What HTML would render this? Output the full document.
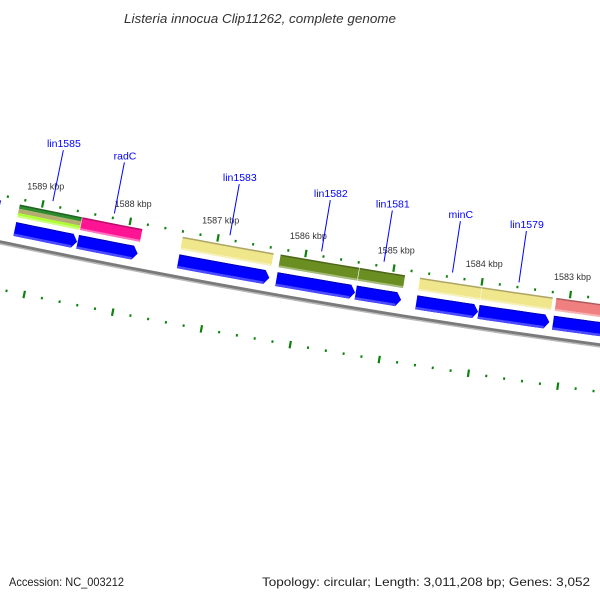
<!DOCTYPE html>
<html><head><meta charset="utf-8"><title>Listeria innocua genome map</title>
<style>html,body{margin:0;padding:0;background:#fff;}svg{display:block;font-family:"Liberation Sans",sans-serif;}</style>
</head><body>
<svg id="map" width="600" height="600" viewBox="0 0 600 600" xmlns="http://www.w3.org/2000/svg">
<rect width="600" height="600" fill="#fff"/>
<text x="260" y="23" text-anchor="middle" font-size="13" font-style="italic" fill="#333" textLength="272" lengthAdjust="spacingAndGlyphs">Listeria innocua Clip11262, complete genome</text>
<text x="9" y="586" font-size="12" fill="#222" textLength="115" lengthAdjust="spacingAndGlyphs">Accession: NC_003212</text>
<text x="590" y="586" text-anchor="end" font-size="12" fill="#222" textLength="328" lengthAdjust="spacingAndGlyphs">Topology: circular; Length: 3,011,208 bp; Genes: 3,052</text>
<g id="plot"></g>
</svg>
<script>
// ---- data ----
const geneNames  = ["", "lin1585", "radC", "lin1583", "lin1582", "lin1581", "minC", "lin1579", ""];
const geneStarts = [1590300, 1589250, 1588534, 1587391, 1586276, 1585378, 1584693, 1583990, 1583150];
const geneEnds   = [1589466, 1588540, 1587851, 1586356, 1585385, 1584864, 1583995, 1583191, 1582200];
const cogColors  = [["#0000ff"], ["#2e8b2e","#b5ad70","#adff2f"], ["#ff1493"], ["#f0e68c"], ["#6b8e23"], ["#6b8e23"], ["#f0e68c"], ["#f0e68c"], ["#f08080"]];
const tickRange  = [1581000, 1591400];
const tickStep   = 200;
const majorStep  = 1000;

// ---- geometry (circular axis) ----
const NS = "http://www.w3.org/2000/svg";
const CX = 1704, CY = -7883, R = 8300;
const PHI0 = 99.75 * Math.PI / 180, REF = 1586000, K = 0.01081 / 1000;
function ang(bp){ return PHI0 + (bp - REF) * K; }
function pt(bp, v){ const a = ang(bp), r = R + v; return [CX + r*Math.cos(a), CY + r*Math.sin(a)]; }
function arcPts(b1, b2, v, n){ const out=[]; for(let i=0;i<=n;i++){ out.push(pt(b1+(b2-b1)*i/n, v)); } return out; }
function ptsStr(p){ return p.map(q=>q[0].toFixed(2)+","+q[1].toFixed(2)).join(" "); }
const plot = document.getElementById("plot");
function mk(tag, attrs){ const el=document.createElementNS(NS, tag); for(const k in attrs) el.setAttribute(k, attrs[k]); plot.appendChild(el); return el; }
function band(b1, b2, v1, v2, fill){ const p = arcPts(b1,b2,v1,6).concat(arcPts(b2,b1,v2,6)); return mk("polygon",{points:ptsStr(p), fill:fill}); }

// backbone
{
  const p1 = mk("polyline",{points:ptsStr(arcPts(tickRange[1],tickRange[0],1.5,30)), fill:"none", stroke:"#7a7a7a", "stroke-width":3});
  
  
  const p2 = mk("polyline",{points:ptsStr(arcPts(tickRange[1],tickRange[0],3.6,30)), fill:"none", stroke:"#b8b8b8", "stroke-width":1.4});
  
  
}

// ticks
for (let bp = tickRange[0]; bp <= tickRange[1]; bp += tickStep) {
  const major = bp % majorStep === 0;
  const a1 = pt(bp, major ? -48 : -45.5), a2 = pt(bp, major ? -40.5 : -43);
  const t = mk("line",{x1:a1[0],y1:a1[1],x2:a2[0],y2:a2[1],stroke:"#0d820d","stroke-width":major?2.2:2});
  
  
  const b1 = pt(bp, major ? 44.5 : 47), b2 = pt(bp, major ? 52 : 49.5);
  const t2 = mk("line",{x1:b1[0],y1:b1[1],x2:b2[0],y2:b2[1],stroke:"#0d820d","stroke-width":major?2.2:2});
  
  
  if (major) {
    const lp = pt(bp, -59);
    const lab = mk("text",{x:lp[0].toFixed(1), y:lp[1].toFixed(1), "text-anchor":"middle", "font-size":9, fill:"#333"});
    lab.textContent = (bp/1000) + " kbp";
    
    
  }
}

// features
const HEAD = 55;
for (let i = 0; i < geneStarts.length; i++) {
  const s = geneStarts[i], e = geneEnds[i];
  // COG feature band
  const cols = cogColors[i], top = -39, bot = -26, h = (bot-top)/cols.length;
  cols.forEach((c, j) => {
    const f = band(s, e, top + j*h, top + (j+1)*h, c);
    
    
  });
  const sh1 = band(s, e, -39, -37.5, "rgba(0,0,0,0.28)");
  
  
  const sh2 = band(s, e, -28, -26, "rgba(255,255,255,0.4)");
  
  
  // gene arrow
  const bodyEnd = e + HEAD;
  const p = arcPts(s, bodyEnd, -21, 6).concat([pt(e, -14)]).concat(arcPts(bodyEnd, s, -7, 6));
  const ar = mk("polygon",{points:ptsStr(p), fill:"#0000ff"});
  
  
  const lt = band(s, bodyEnd, -9.5, -7, "#4a4aff");
  
  
  const dk = band(s, bodyEnd, -21, -20, "#0000b0");
  
  
  // label
  if (geneNames[i]) {
    const mid = (s + e) / 2;
    const l1 = pt(mid, -49), l2 = pt(mid, -101), lp = pt(mid, -104);
    const ln = mk("line",{x1:l1[0],y1:l1[1],x2:l2[0],y2:l2[1],stroke:"#0000ff","stroke-width":1});
    
    
    const tx = mk("text",{x:lp[0].toFixed(1), y:lp[1].toFixed(1), "text-anchor":"middle", "font-size":10.5, fill:"#0000ff"});
    tx.textContent = geneNames[i];
    
    
  }
}
</script>
</body></html>
